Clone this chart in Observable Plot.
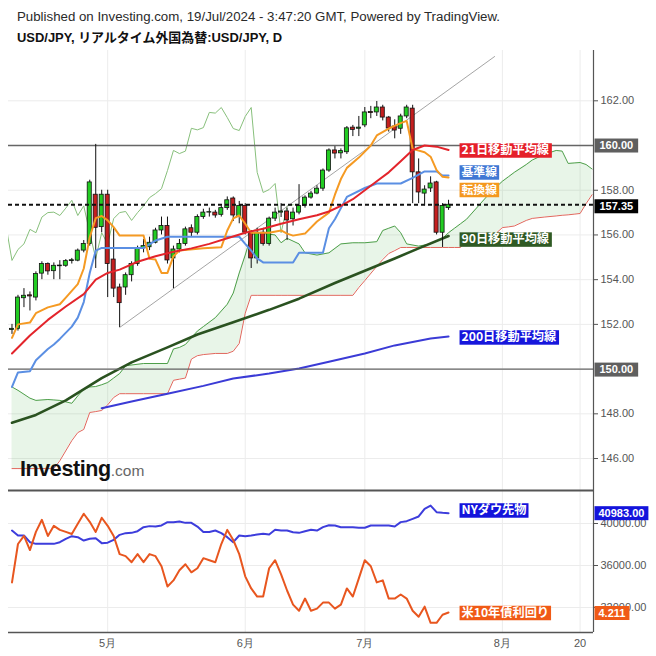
<!DOCTYPE html>
<html>
<head>
<meta charset="utf-8">
<script src="https://cdn.jsdelivr.net/npm/d3@7"></script>
<script src="https://cdn.jsdelivr.net/npm/@observablehq/plot@0.6"></script>
<style>
  html, body { margin: 0; padding: 0; background: #fff; }
  #wrap { position: relative; width: 656px; height: 656px; overflow: hidden; background: #fff; }
  .ttl { position: absolute; left: 17px; white-space: nowrap; transform-origin: 0 50%; }
  #t1 { top: 9px; font: 12px "Liberation Sans", Arial, sans-serif; color: #2a2a2a; line-height: 16px; }
  #t2 { top: 29px; font: bold 13px "Liberation Sans", "Noto Sans CJK JP", sans-serif; color: #111; line-height: 18px; }
  .layer { position: absolute; left: 0; }
  #logo { position: absolute; left: 0; top: 0; pointer-events: none; }
</style>
</head>
<body>
<div id="wrap">
  <div id="t1" class="ttl">Published on Investing.com, 19/Jul/2024 - 3:47:20 GMT, Powered by TradingView.</div>
  <div id="t2" class="ttl">USD/JPY, リアルタイム外国為替:USD/JPY, D</div>
  <div id="main" class="layer" style="top:40px"></div>
  <div id="lower" class="layer" style="top:490px"></div>
  <div id="lower2" class="layer" style="top:490px"></div>
  <svg id="logo" width="656" height="656">
    <text x="20" y="476" font-family="Liberation Sans, Arial, sans-serif"><tspan font-weight="bold" font-size="21.5" fill="#111" letter-spacing="-0.4">Investing</tspan><tspan font-size="15.5" fill="#666">.com</tspan></text>
  </svg>
</div>
<script>
// ---------------- data ----------------
const dates = ["04-09","04-10","04-11","04-12","04-15","04-16","04-17","04-18","04-19","04-22",
  "04-23","04-24","04-25","04-26","04-29","04-30","05-01","05-02","05-03","05-06",
  "05-07","05-08","05-09","05-10","05-13","05-14","05-15","05-16","05-17","05-20",
  "05-21","05-22","05-23","05-24","05-27","05-28","05-29","05-30","05-31","06-03",
  "06-04","06-05","06-06","06-07","06-10","06-11","06-12","06-13","06-14","06-17",
  "06-18","06-19","06-20","06-21","06-24","06-25","06-26","06-27","06-28","07-01",
  "07-02","07-03","07-04","07-05","07-08","07-09","07-10","07-11","07-12","07-15",
  "07-16","07-17","07-18","07-19"];
const open = [151.75,151.80,153.17,153.30,153.20,154.27,154.70,154.38,154.60,154.62,
  154.83,154.85,155.30,155.60,157.80,156.35,157.80,154.90,153.65,153.65,
  154.20,154.70,155.40,155.45,155.65,156.20,156.40,154.95,155.35,155.60,
  156.30,156.10,156.80,157.00,157.00,156.90,157.20,157.63,156.80,157.30,
  156.10,154.95,156.10,155.60,156.73,157.00,157.05,156.70,157.00,157.30,
  157.67,157.85,158.07,158.88,159.78,159.65,159.70,160.80,160.75,160.90,
  161.50,161.48,161.70,161.25,160.85,160.75,161.30,161.65,158.80,157.85,
  158.08,158.35,156.10,157.20];
const high = [152.00,153.30,153.60,153.45,154.35,154.80,154.75,154.75,154.85,154.90,
  154.95,155.37,155.75,158.45,160.05,158.00,158.00,156.30,153.80,154.30,
  154.80,155.50,155.80,155.90,156.30,156.80,156.80,155.50,155.80,156.35,
  156.45,156.90,157.15,157.20,157.10,157.30,157.70,157.70,157.50,157.40,
  156.20,156.30,156.30,156.80,157.20,157.40,157.20,157.20,158.25,157.75,
  157.95,158.20,158.95,159.85,159.95,159.85,160.85,160.90,161.30,161.70,
  161.75,161.97,161.80,161.30,161.15,161.40,161.80,161.80,159.40,158.20,
  158.60,158.40,157.40,157.55];
const low = [151.55,151.70,152.75,152.60,153.05,154.00,154.20,154.00,154.00,154.55,
  154.70,154.80,155.20,155.50,154.50,156.10,153.20,153.20,151.86,153.30,
  153.90,154.60,155.20,155.30,155.60,156.00,154.70,153.60,155.20,155.50,
  155.90,156.00,156.70,156.80,156.75,156.80,157.10,156.60,156.50,156.00,
  154.50,154.70,155.50,155.50,156.60,156.78,155.75,156.40,156.90,157.20,
  157.60,157.80,157.95,158.80,159.40,159.40,159.60,160.40,160.40,160.80,
  161.20,161.30,161.10,160.60,160.30,160.50,161.20,157.40,157.40,157.30,
  157.90,156.00,155.44,157.10];
const close = [151.80,153.20,153.28,153.25,154.25,154.70,154.37,154.62,154.63,154.83,
  154.87,155.30,155.60,158.35,156.32,157.80,154.70,153.60,152.95,154.20,
  154.70,155.40,155.50,155.65,156.20,156.40,154.86,155.35,155.60,156.25,
  156.10,156.80,157.00,157.02,156.87,157.20,157.55,156.87,157.30,156.10,
  154.95,156.10,155.60,156.73,157.00,157.05,156.65,157.00,157.30,157.67,
  157.85,158.07,158.88,159.78,159.64,159.75,160.77,160.70,160.80,161.48,
  161.45,161.70,161.25,160.76,160.67,161.30,161.70,158.80,157.90,158.03,
  158.30,156.10,157.30,157.35];

// indicator lines: [bar index, value]
const ma21 = [[0,150.7],[3,151.5],[6,152.2],[9,152.8],[12,153.35],[14,154.0],[16,154.3],[18,154.45],
  [21,154.8],[24,155.05],[27,155.25],[30,155.4],[33,155.6],[36,155.85],[39,156.1],[42,156.28],
  [45,156.5],[48,156.7],[51,156.88],[53,157.05],[55,157.3],[57,157.6],[59,158.0],[61,158.4],
  [63,158.8],[65,159.3],[67,159.8],[69,160.0],[71,159.95],[73,159.8]];
const kijun = [[0,149.2],[1,149.85],[3,149.9],[4,150.4],[6,150.9],[7,151.1],[8,151.35],[10,151.9],
  [11,152.3],[12,153.0],[13,154.3],[14,155.3],[15,155.42],[22,155.42],[24,155.75],[26,155.92],
  [38,155.92],[39,155.6],[40,155.3],[41,154.95],[42,154.77],[47,154.77],[48,155.2],[52,155.2],
  [53,156.3],[54,156.7],[55,157.2],[56,157.7],[59,158.1],[61,158.3],[65,158.3],[67,158.55],
  [69,158.84],[71,158.84],[72,158.66],[73,158.66]];
const tenkan = [[0,151.4],[1,152.0],[3,152.08],[4,152.5],[6,152.76],[8,152.9],[9,153.2],[11,153.8],
  [12,154.5],[13,155.9],[14,156.75],[15,156.85],[16,156.65],[17,156.35],[18,155.97],[22,155.97],
  [23,154.93],[24,154.9],[25,154.3],[26,154.3],[27,155.05],[28,155.3],[32,155.4],[35,155.45],
  [36,156.2],[37,156.74],[38,156.87],[39,156.5],[40,156.1],[43,156.1],[45,156.2],[46,156.06],
  [47,155.97],[49,156.06],[51,156.6],[53,157.0],[54,157.8],[55,158.5],[56,159.0],[58,159.46],
  [60,160.0],[61,160.45],[63,160.76],[65,161.0],[66,161.1],[67,159.85],[69,159.7],[70,159.5],
  [71,158.9],[72,158.6],[73,158.57]];
const ma90 = [[0,147.6],[4,147.95],[9,148.6],[15,149.6],[20,150.3],[26,150.97],[31,151.55],
  [37,152.1],[43,152.65],[48,153.15],[54,153.85],[59,154.4],[64,154.95],[68,155.4],[73,155.95]];
const ma200 = [[15,148.25],[20,148.55],[26,148.9],[32,149.25],[37,149.58],[43,149.8],[48,150.03],
  [53,150.33],[59,150.7],[64,151.06],[70,151.37],[73,151.46]];

// Ichimoku cloud (leading spans, drawn 26 bars ahead)
const cloudIdx = [0,1,3,4,6,7,8,10,11,12, 13,14,15,16,17,18,19,22,26,27,
  28,29,30,31,32,34,36,37,38,39, 40,41,44,45,46,48,49,51,53,55,
  57,58,59,61,62,63,64,65,66,68, 70,72,73,74,75,76,78,80,82,83,
  84,86,87,89,91,92,93,94,95,96,97];
const spanA = [149.2,149.05,148.7,148.6,148.64,148.62,148.6,148.47,148.8,149.1,
  149.2,149.22,149.3,149.4,149.6,149.8,150.15,150.25,150.25,150.9,
  150.97,151.1,151.4,151.7,151.9,152.3,152.9,153.4,154.3,155.1,
  156.0,156.1,156.0,155.65,155.85,155.6,155.2,155.1,155.2,155.6,
  155.65,155.65,155.65,155.7,156.2,156.3,156.4,156.1,155.6,155.5,
  155.6,155.85,156.1,156.3,156.5,156.7,157.3,157.9,158.4,158.6,
  158.8,159.15,159.35,159.6,159.78,159.75,159.2,159.22,159.24,159.15,158.95];
const spanB = [145.55,145.55,145.55,145.55,145.55,145.55,145.9,146.8,147.16,147.3,
  148.06,148.1,148.15,148.4,148.73,148.9,148.9,148.9,148.9,149.5,
  149.55,149.6,150.45,150.6,150.65,150.7,150.7,150.8,151.15,152.5,
  153.3,153.3,153.3,153.3,153.3,153.3,153.3,153.3,153.3,153.3,
  153.3,153.65,153.96,154.6,154.9,155.17,155.3,155.44,155.44,155.44,
  155.44,155.44,155.44,155.44,155.44,155.84,155.84,155.84,156.33,156.36,
  156.4,156.65,156.74,156.8,156.85,156.88,156.9,156.93,156.96,157.4,157.8];

const trend = [[18,151.86],[80.7,163.98]];

const dow = [39330,38860,38860,38220,38060,38060,38060,38060,38220,38540,
  38790,38700,38380,38540,38600,38130,38170,38440,38920,39080,
  39110,39270,39650,39750,39710,39810,40130,40130,40190,40060,
  40060,39710,39200,39200,39330,39080,38700,38220,38860,38790,
  38860,38950,39020,38950,39400,39330,39330,39170,39110,39270,
  39400,39330,39650,39840,39810,39650,39650,39650,39590,39590,
  39810,39810,39810,39810,39710,40130,40220,40440,40670,41400,
  41710,41080,41020,40983];
const yield10 = [4.36,4.55,4.59,4.52,4.61,4.67,4.59,4.64,4.62,4.61,
  4.60,4.65,4.70,4.66,4.61,4.68,4.64,4.59,4.50,4.49,
  4.46,4.50,4.46,4.50,4.49,4.44,4.34,4.37,4.42,4.45,
  4.41,4.43,4.48,4.47,4.46,4.55,4.62,4.57,4.50,4.39,
  4.33,4.29,4.29,4.43,4.47,4.40,4.32,4.25,4.22,4.28,
  4.22,4.23,4.26,4.26,4.23,4.25,4.33,4.29,4.38,4.47,
  4.44,4.36,4.37,4.28,4.28,4.30,4.28,4.22,4.19,4.24,
  4.16,4.16,4.20,4.211];

const tickIndex = [16,39,59,82,95];
const tickLabels = ["5月","6月","7月","8月","20"];
const priceTicks = [146,148,152,154,156,158,162];
const priceGrid = [146,148,150,152,154,156,158,160,162];
const levels = [160,150];
const dowTicks = [32000,36000,40000];

// ---------------- chart ----------------
const xDomain = [-0.585, 97.24];
const font = "'Liberation Sans', Arial, sans-serif";
const jp = "'Noto Sans CJK JP', 'Noto Sans CJK SC', sans-serif";
const last = close.length - 1;

const bars = dates.map((d, i) => ({i, d, o: open[i], h: high[i], l: low[i], c: close[i]}));
const up = bars.filter(b => b.c >= b.o);
const down = bars.filter(b => b.c < b.o);
const pts = arr => arr.map(([i, v]) => ({i, v}));
const chikou = close.slice(25).map((v, k) => ({i: k - 1, v})); // lagging span: close shifted 26 bars back
const cloud = cloudIdx.map((i, k) => ({i, a: spanA[k], b: spanB[k]}));
const dowPts = dow.map((v, i) => ({i, v}));
const yldPts = yield10.map((v, i) => ({i, v}));

const boxes = {}; // text content -> box style
function tag(text, x, y, dy, color, size) {
  boxes[text] = {color, h: 14.5, padX: 2};
  return Plot.text([{x, y, text}], {x: "x", y: "y", text: "text", dx: 13, dy, textAnchor: "start",
    fill: "white", fontSize: size, fontFamily: jp, fontWeight: "bold"});
}
function axisTag(text, y, dy, color, padX) {
  boxes[text] = {color, h: 14, padX};
  return Plot.text([{y, text}], {x: () => xDomain[1], y: "y", text: "text", dx: padX + 1, dy, textAnchor: "start",
    fill: "white", fontSize: 11, fontFamily: font, fontWeight: "bold"});
}
const lastOf = s => s[s.length - 1];

const baseStyle = {fontFamily: font, fontSize: "11px", color: "#555", overflow: "visible", background: "transparent"};

const main = Plot.plot({
  width: 656, height: 450, marginTop: 10, marginBottom: 0, marginLeft: 8, marginRight: 63,
  style: baseStyle,
  x: {domain: xDomain, axis: null},
  y: {domain: [144.57, 164.25], axis: "right", ticks: priceTicks, tickFormat: d => d.toFixed(2),
      tickSize: 4, tickPadding: 3, label: null},
  marks: [
    Plot.ruleY(priceGrid, {stroke: "#ececec"}),
    Plot.ruleX(tickIndex, {stroke: "#ececec"}),
    Plot.areaY(cloud, {x: "i", y1: "b", y2: "a", fill: "#4caf50", fillOpacity: 0.13, clip: true}),
    Plot.line(cloud, {x: "i", y: "a", stroke: "#4e9f4a", strokeWidth: 1, clip: true}),
    Plot.line(cloud, {x: "i", y: "b", stroke: "#e0675c", strokeWidth: 1, clip: true}),
    Plot.line(chikou, {x: "i", y: "v", stroke: "#88c07c", strokeWidth: 1, clip: true}),
    Plot.line(pts(ma200), {x: "i", y: "v", stroke: "#3b3bd6", strokeWidth: 2}),
    Plot.line(pts(ma90), {x: "i", y: "v", stroke: "#2a5220", strokeWidth: 2.6}),
    Plot.line(pts(trend), {x: "i", y: "v", stroke: "#a5a5a5", strokeWidth: 1}),
    Plot.ruleY(levels, {stroke: "#666", strokeWidth: 1.3}),
    Plot.ruleX(bars, {x: "i", y1: "l", y2: "h", stroke: "#111", strokeWidth: 1}),
    Plot.rect(up, {x1: d => d.i - 0.34, x2: d => d.i + 0.34, y1: "o", y2: "c", fill: "#22cc22", stroke: "#111", strokeWidth: 0.8}),
    Plot.rect(down, {x1: d => d.i - 0.34, x2: d => d.i + 0.34, y1: "o", y2: "c", fill: "#c41f1f", stroke: "#111", strokeWidth: 0.8}),
    Plot.line(pts(kijun), {x: "i", y: "v", stroke: "#5b8fe3", strokeWidth: 2}),
    Plot.line(pts(tenkan), {x: "i", y: "v", stroke: "#f59a23", strokeWidth: 2}),
    Plot.line(pts(ma21), {x: "i", y: "v", stroke: "#e3242b", strokeWidth: 2}),
    Plot.ruleY([close[last]], {stroke: "#111", strokeWidth: 2, strokeDasharray: "4,3"}),
    Plot.ruleX([xDomain[1]], {stroke: "#555", strokeWidth: 1.2}),
    tag("21日移動平均線", lastOf(ma21)[0], lastOf(ma21)[1], 0.5, "#e5202a", 12.2),
    tag("基準線", lastOf(kijun)[0], lastOf(kijun)[1], -3, "#3f77d4", 11.8),
    tag("転換線", lastOf(tenkan)[0], lastOf(tenkan)[1], 12.5, "#f4981f", 11.8),
    tag("90日移動平均線", lastOf(ma90)[0], lastOf(ma90)[1], 3.5, "#2f5a24", 12.2),
    tag("200日移動平均線", lastOf(ma200)[0], lastOf(ma200)[1], 1, "#1616dc", 12.2),
    axisTag(levels[0].toFixed(2), levels[0], 0, "#5f5f5f", 5),
    axisTag(close[last].toFixed(2), close[last], 1.5, "#000", 5),
    axisTag(levels[1].toFixed(2), levels[1], 0.5, "#5f5f5f", 5)
  ]
});

const lower = Plot.plot({
  width: 656, height: 166, marginTop: 0, marginBottom: 24, marginLeft: 8, marginRight: 63,
  style: baseStyle,
  x: {domain: xDomain, ticks: tickIndex, tickFormat: d => tickLabels[tickIndex.indexOf(d)],
      tickSize: 0, tickPadding: 7, label: null},
  y: {domain: [29619, 43143], axis: "right", ticks: dowTicks, tickFormat: d => d.toFixed(2),
      tickSize: 4, tickPadding: 3, label: null},
  marks: [
    Plot.ruleY(dowTicks, {stroke: "#ececec"}),
    Plot.ruleX(tickIndex, {stroke: "#ececec"}),
    Plot.line(dowPts, {x: "i", y: "v", stroke: "#3d3ddc", strokeWidth: 2}),
    Plot.ruleY([43143], {stroke: "#555", strokeWidth: 2}),
    Plot.ruleY([29619], {stroke: "#555", strokeWidth: 1.5}),
    Plot.ruleX([xDomain[1]], {stroke: "#555", strokeWidth: 1.2}),
    tag("NYダウ先物", last, dow[last], -2.7, "#1414dc", 12.2),
    axisTag(dow[last].toFixed(2), dow[last], 0, "#1414dc", 4)
  ]
});

const lower2 = Plot.plot({
  width: 656, height: 166, marginTop: 0, marginBottom: 24, marginLeft: 8, marginRight: 63,
  style: baseStyle,
  x: {domain: xDomain, axis: null},
  y: {domain: [4.112, 4.815], axis: null},
  marks: [
    Plot.line(yldPts, {x: "i", y: "v", stroke: "#e8561f", strokeWidth: 2}),
    tag("米10年債利回り", last, yield10[last], 0.5, "#f05a16", 12.2),
    axisTag(yield10[last].toFixed(3), yield10[last], 0.5, "#f05a16", 4)
  ]
});

document.getElementById("main").append(main);
document.getElementById("lower").append(lower);
document.getElementById("lower2").append(lower2);

const SVGNS = "http://www.w3.org/2000/svg";
function boxify(svg) {
  svg.querySelectorAll("text").forEach(t => {
    const def = boxes[t.textContent];
    if (!def) return;
    const b = t.getBBox();
    const mid = b.y + b.height / 2;
    const cy = Math.abs(mid) > 8 ? mid : 0;
    const r = document.createElementNS(SVGNS, "rect");
    r.setAttribute("x", b.x - def.padX);
    r.setAttribute("y", cy - def.h / 2);
    r.setAttribute("width", b.width + 2 * def.padX);
    r.setAttribute("height", def.h);
    r.setAttribute("fill", def.color);
    const tr = t.getAttribute("transform");
    if (tr) r.setAttribute("transform", tr);
    t.parentNode.insertBefore(r, t);
  });
}
[main, lower, lower2].forEach(boxify);

function fitWidth(id, target) {
  const el = document.getElementById(id);
  const w = el.getBoundingClientRect().width;
  if (w > 0) el.style.transform = `scaleX(${target / w})`;
}
fitWidth("t1", 483);
fitWidth("t2", 265);
</script>
</body>
</html>
